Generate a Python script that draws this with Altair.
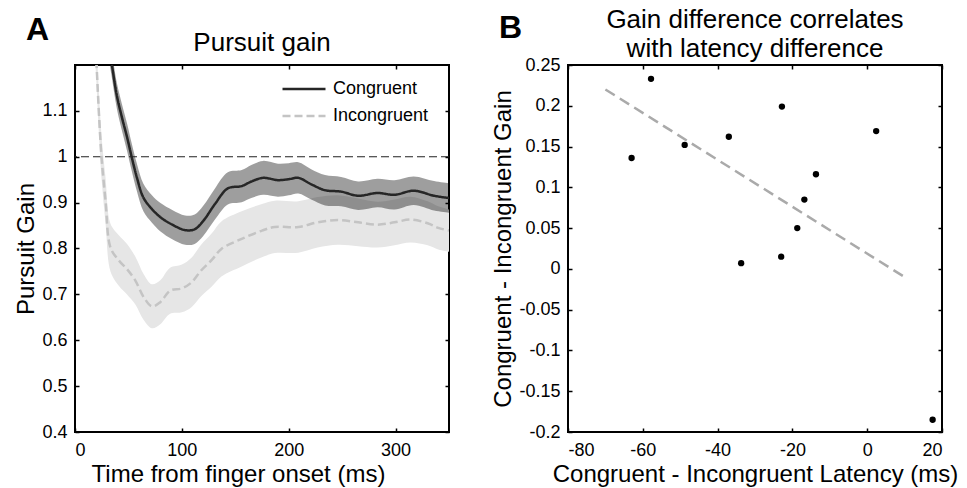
import altair as alt
import pandas as pd

FONT = "Liberation Sans"

# ---------------- Panel A data ----------------
conds = ["Congruent", "Incongruent"]

time_con = [28, 34, 39, 44, 49, 53, 58, 64, 72, 80, 91, 103, 112, 120, 131, 143,
            156, 165, 176, 190, 200, 209, 221, 234, 249, 265, 283, 299, 317, 336, 350]
gain_con = [1.29, 1.208, 1.135, 1.085, 1.04, 1.0, 0.954, 0.911, 0.886, 0.868, 0.852,
            0.840, 0.842, 0.860, 0.897, 0.931, 0.936, 0.946, 0.954, 0.949, 0.951,
            0.954, 0.940, 0.927, 0.924, 0.915, 0.921, 0.917, 0.926, 0.915, 0.910]
sem_con = [0.028, 0.028, 0.028, 0.029, 0.030, 0.030, 0.030, 0.030, 0.030, 0.031, 0.032,
           0.032, 0.032, 0.033, 0.034, 0.035, 0.035, 0.036, 0.037, 0.036, 0.035,
           0.034, 0.033, 0.033, 0.032, 0.031, 0.031, 0.032, 0.031, 0.032, 0.032]

time_inc = [15, 20, 22.3, 24.8, 28.6, 33.2, 41, 48.7, 56.5, 64.3, 72, 79.8, 89, 100,
            109, 118, 128, 137, 156, 175, 187, 209, 227, 246, 265, 283, 299, 314,
            330, 340, 350]
gain_inc = [1.42, 1.208, 1.099, 1.0, 0.904, 0.802, 0.774, 0.755, 0.730, 0.694, 0.674,
            0.683, 0.708, 0.713, 0.726, 0.752, 0.775, 0.799, 0.821, 0.839, 0.847,
            0.847, 0.857, 0.862, 0.857, 0.852, 0.857, 0.863, 0.855, 0.845, 0.839]
sem_inc = [0.045, 0.045, 0.045, 0.047, 0.050, 0.052, 0.055, 0.055, 0.052, 0.050, 0.048,
           0.048, 0.050, 0.052, 0.054, 0.056, 0.058, 0.060, 0.060, 0.058, 0.057,
           0.056, 0.055, 0.054, 0.052, 0.050, 0.050, 0.050, 0.048, 0.047, 0.046]

ref_gain = [1.0]

xticks_A = [0, 100, 200, 300]
yticks_A = [0.4, 0.5, 0.6, 0.7, 0.8, 0.9, 1.0, 1.1]

# ---------------- Panel B data ----------------
lat_diff = [-63.0, -57.8, -48.8, -37.0, -33.7, -23.0, -22.8, -18.7, -16.8, -13.7, 2.4, 17.5]
gain_diff = [0.136, 0.233, 0.152, 0.162, 0.007, 0.015, 0.199, 0.050, 0.085, 0.116, 0.169, -0.185]
fit_x = [-70, 10]
fit_y = [0.220, -0.010]

xticks_B = [-80, -60, -40, -20, 0, 20]
yticks_B = [-0.2, -0.15, -0.1, -0.05, 0, 0.05, 0.1, 0.15, 0.2, 0.25]

W, H = 374, 367
INTERP = "catmull-rom"


def mk(time, gain, sem, cond):
    return pd.DataFrame({
        "time": time, "gain": gain,
        "lo": [g - s for g, s in zip(gain, sem)],
        "hi": [g + s for g, s in zip(gain, sem)],
        "cond": cond,
    })


df_con = mk(time_con, gain_con, sem_con, conds[0])
df_inc = mk(time_inc, gain_inc, sem_inc, conds[1])
df_all = pd.concat([df_con, df_inc], ignore_index=True)


def ax_main(orient, values, title, label_pad, title_pad, **kw):
    return alt.Axis(orient=orient, values=values, offset=-4, tickSize=4, tickWidth=1.5,
                    tickColor="black", domain=False, grid=False, labelPadding=label_pad,
                    labelFontSize=18, labelFont=FONT, labelColor="black",
                    labelExpr="toString(datum.value)", title=title, titleFontSize=24,
                    titleFont=FONT, titleFontWeight="normal", titleColor="black",
                    titlePadding=title_pad, **kw)


def ax_side(orient, values):
    return alt.Axis(orient=orient, values=values, offset=-4, tickSize=4, tickWidth=1.5,
                    tickColor="black", domain=False, grid=False, labels=False, title=None)


# ---------------- Panel A ----------------
xA = alt.Scale(domain=[0, 350], nice=False, zero=False)
yA = alt.Scale(domain=[0.4, 1.2], nice=False, zero=False)

band_inc = alt.Chart(df_inc).mark_area(color="#e6e6e6", interpolate=INTERP, clip=True).encode(
    x=alt.X("time:Q", scale=xA, axis=ax_main("bottom", xticks_A, "Time from finger onset (ms)", 9, 3,
                                             titleX=163, titleAlign="center")),
    y=alt.Y("lo:Q", scale=yA, axis=ax_main("left", yticks_A, "Pursuit Gain", 8, 3)),
    y2="hi:Q",
)
band_con = alt.Chart(df_con).mark_area(color="black", opacity=0.38, interpolate=INTERP, clip=True).encode(
    x=alt.X("time:Q", scale=xA, axis=ax_side("top", xticks_A)),
    y=alt.Y("lo:Q", scale=yA, axis=ax_side("right", yticks_A)),
    y2="hi:Q",
)
ref = alt.Chart(pd.DataFrame({"v": ref_gain})).mark_rule(
    color="#222222", strokeDash=[8, 4], strokeWidth=1.2).encode(
    y=alt.Y("v:Q", scale=yA, axis=None))

leg = alt.Legend(title=None, orient="none", legendX=220, legendY=15, symbolType="M-4.3,0H4.3",
                 symbolSize=100, symbolStrokeWidth=2.5, labelFontSize=18, labelFont=FONT,
                 labelColor="black", labelOffset=20, padding=0, rowPadding=9)
lines = alt.Chart(df_all).mark_line(interpolate=INTERP, clip=True, strokeWidth=2.5).encode(
    x=alt.X("time:Q", scale=xA, axis=None),
    y=alt.Y("gain:Q", scale=yA, axis=None),
    color=alt.Color("cond:N", scale=alt.Scale(domain=conds, range=["#262626", "#c4c4c4"]), legend=leg),
    strokeDash=alt.StrokeDash("cond:N", scale=alt.Scale(domain=conds, range=[[1, 0], [8, 4]]), legend=leg),
)
letterA = alt.Chart(pd.DataFrame({"t": ["A"]})).mark_text(
    fontSize=32, fontWeight="bold", font=FONT, align="left", baseline="alphabetic", color="black").encode(
    text="t:N", x=alt.value(-49), y=alt.value(-25))

panelA = alt.layer(band_inc, band_con, ref, lines, letterA).resolve_axis(
    x="independent", y="independent").properties(
    width=W, height=H, title=alt.TitleParams("Pursuit gain", offset=-42, anchor="middle"))

# ---------------- Panel B ----------------
xB = alt.Scale(domain=[-80, 20], nice=False, zero=False)
yB = alt.Scale(domain=[-0.2, 0.25], nice=False, zero=False)

fit = alt.Chart(pd.DataFrame({"lat": fit_x, "gain": fit_y})).mark_line(
    color="#aaaaaa", strokeDash=[11, 6], strokeWidth=2.5).encode(
    x=alt.X("lat:Q", scale=xB, axis=ax_side("top", xticks_B)),
    y=alt.Y("gain:Q", scale=yB, axis=ax_side("right", yticks_B)),
)
pts = alt.Chart(pd.DataFrame({"lat": lat_diff, "gain": gain_diff})).mark_circle(
    size=40, color="black", opacity=1).encode(
    x=alt.X("lat:Q", scale=xB, axis=ax_main("bottom", xticks_B, "Congruent - Incongruent Latency (ms)", 9, 3)),
    y=alt.Y("gain:Q", scale=yB, axis=ax_main("left", yticks_B, "Congruent - Incongruent Gain", 8, 3)),
)
letterB = alt.Chart(pd.DataFrame({"t": ["B"]})).mark_text(
    fontSize=32, fontWeight="bold", font=FONT, align="left", baseline="alphabetic", color="black").encode(
    text="t:N", x=alt.value(-69), y=alt.value(-27))

panelB = alt.layer(fit, pts, letterB).resolve_axis(
    x="independent", y="independent").properties(
    width=W, height=H,
    title=alt.TitleParams(["Gain difference correlates", "with latency difference"],
                          offset=-50, anchor="middle", lineHeight=29))

chart = alt.hconcat(panelA, panelB, spacing=119, bounds="flush").properties(
    padding={"left": 13, "top": 6, "right": 5, "bottom": 0},
    background="white",
).configure(font=FONT).configure_view(stroke="black", strokeWidth=2).configure_title(
    fontSize=26, font=FONT, fontWeight="normal", color="black")

chart.save("out.html", embed_options={"renderer": "svg", "actions": False})
